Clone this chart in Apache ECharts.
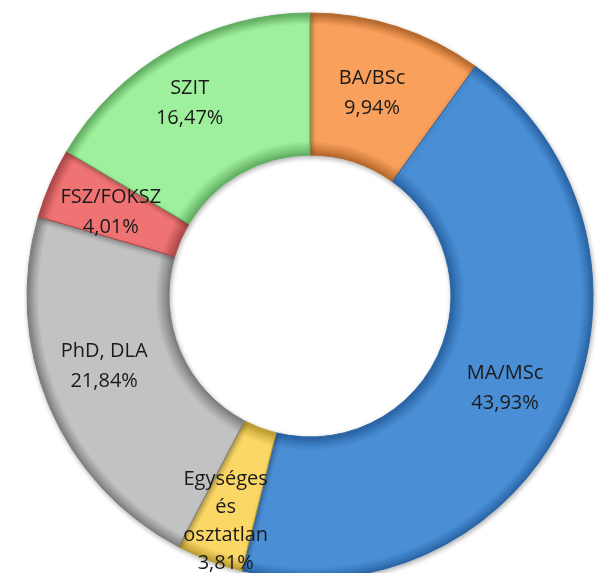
<!DOCTYPE html>
<html>
<head>
<meta charset="utf-8">
<script src="https://cdn.jsdelivr.net/npm/echarts@6/dist/echarts.min.js"></script>
<style>
  html, body { margin: 0; padding: 0; background: #fff; }
  #chart { width: 598px; height: 573px; }
</style>
</head>
<body>
<div id="chart"></div>
<script>
// képzési szintek megoszlása (%), óramutató szerint a tetejétől
const categories = ['BA/BSc', 'MA/MSc', 'Egységes és osztatlan', 'PhD, DLA', 'FSZ/FOKSZ', 'SZIT']
const shares = [9.94, 43.93, 3.81, 21.84, 4.01, 16.47]

const colors = ['#f9a05c', '#4a8fd6', '#fbd766', '#c2c2c2', '#f07373', '#9ff09d']
const edgeColors = ['#b8692c', '#2a66a8', '#bfa033', '#808080', '#b04848', '#62b062']
// címkék finomhangolása (Excel kicsit máshová teszi őket)
const labelShift = [[-4, 2], [0, 2], [-8, 24], [-8, -14], [-2, 2], [-14, -6]]
const labelLineHeight = [30, 30, 28, 30, 30, 30]

const cx = 310, cy = 296, rIn = 141, rOut = 283

const chart = echarts.init(document.getElementById('chart'))

const pieData = categories.map((name, i) => ({
  name: name,
  value: shares[i],
  label: { offset: labelShift[i], lineHeight: labelLineHeight[i] },
  itemStyle: {
    // globális sugárirányú átmenet a domború széleknek
    color: new echarts.graphic.RadialGradient(cx, cy, rOut, [
      { offset: rIn / rOut, color: edgeColors[i] },
      { offset: (rIn + 14) / rOut, color: colors[i] },
      { offset: (rOut - 12) / rOut, color: colors[i] },
      { offset: 1, color: edgeColors[i] }
    ], true),
    borderColor: edgeColors[i],
    borderWidth: 1
  }
}))

chart.setOption({
  animation: false,
  series: [
    {
      type: 'pie',
      center: [cx, cy],
      radius: [rIn, rOut],
      startAngle: 90,
      clockwise: true,
      avoidLabelOverlap: false,
      data: pieData,
      itemStyle: {
        shadowColor: 'rgba(0, 0, 0, 0.3)',
        shadowBlur: 5,
        shadowOffsetX: 1,
        shadowOffsetY: 2
      },
      label: {
        show: true,
        position: 'inside',
        color: '#1a1a1a',
        fontFamily: 'Open Sans',
        fontSize: 20,
        formatter: function (p) {
          const name = p.name.replace(' és ', '\nés\n')
          return name + '\n' + p.value.toFixed(2).replace('.', ',') + '%'
        }
      },
      labelLine: { show: false }
    }
  ]
})
</script>
</body>
</html>
